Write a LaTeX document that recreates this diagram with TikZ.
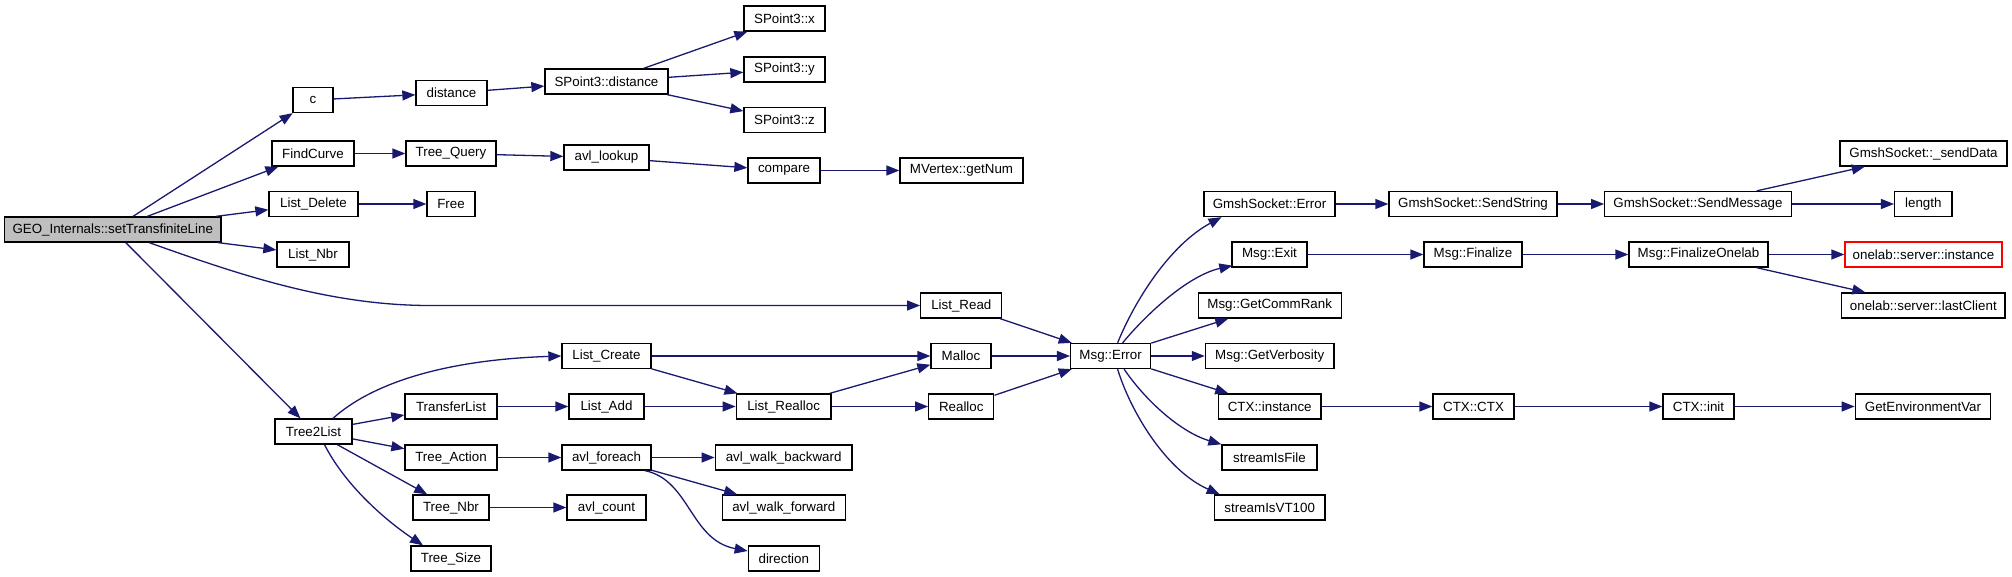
\documentclass[tikz,border=0pt]{standalone}
\usepackage{fontspec}
\setmainfont{Liberation Sans}
\usetikzlibrary{arrows.meta,calc}
\definecolor{edgecol}{HTML}{191970}
\definecolor{rootfill}{HTML}{BFBFBF}
\tikzset{
  box/.style={draw=black, line width=0.65pt, fill=white, rectangle, minimum height=12.5pt, inner sep=0pt, font=\fontsize{6.67}{8}\selectfont},
  bw/.style={minimum width=#1*0.5pt},
  edge/.style={draw=edgecol, line width=0.65pt, -{Triangle[length=6.5pt,width=5pt]}}
}
\begin{document}
\begin{tikzpicture}[x=0.5pt,y=-0.5pt]
\fill[white] (0,0) rectangle (2012,577);
\useasboundingbox (0,0) rectangle (2012,577);
% nodes
\node[box, bw=216.5, fill=rootfill] (geo) at (112.75,229.5) {GEO\_Internals::setTransfiniteLine};
\node[box, bw=40] (c) at (313,100) {c};
\node[box, bw=71] (distance) at (451.5,93) {distance};
\node[box, bw=123] (spdist) at (606.5,81.5) {SPoint3::distance};
\node[box, bw=81] (spx) at (784.5,18.5) {SPoint3::x};
\node[box, bw=81] (spy) at (784.5,69.5) {SPoint3::y};
\node[box, bw=81] (spz) at (784.5,120) {SPoint3::z};
\node[box, bw=82] (findcurve) at (313,153.5) {FindCurve};
\node[box, bw=90] (treequery) at (451,153.5) {Tree\_Query};
\node[box, bw=85] (avllookup) at (606.5,157.5) {avl\_lookup};
\node[box, bw=72] (compare) at (784,170.5) {compare};
\node[box, bw=123] (mvertex) at (961.5,170.5) {MVertex::getNum};
\node[box, bw=89] (listdelete) at (313.5,204) {List\_Delete};
\node[box, bw=48] (free) at (451,204) {Free};
\node[box, bw=72] (listnbr) at (313,254.5) {List\_Nbr};
\node[box, bw=77] (tree2list) at (313.5,431.5) {Tree2List};
\node[box, bw=89] (listcreate) at (606.5,356) {List\_Create};
\node[box, bw=92] (transferlist) at (451,406.5) {TransferList};
\node[box, bw=75] (listadd) at (606.5,406.5) {List\_Add};
\node[box, bw=92] (treeaction) at (451,457.5) {Tree\_Action};
\node[box, bw=89] (avlforeach) at (606.5,457.5) {avl\_foreach};
\node[box, bw=76] (treenbr) at (451,507.5) {Tree\_Nbr};
\node[box, bw=79] (avlcount) at (606.5,507.5) {avl\_count};
\node[box, bw=80] (treesize) at (451,558.5) {Tree\_Size};
\node[box, bw=81] (listread) at (961.3,305.5) {List\_Read};
\node[box, bw=60] (malloc) at (961,356) {Malloc};
\node[box, bw=80] (msgerror) at (1110.6,356) {Msg::Error};
\node[box, bw=94.6] (listrealloc) at (783.6,406.5) {List\_Realloc};
\node[box, bw=65] (realloc) at (961.3,406.5) {Realloc};
\node[box, bw=136.6] (avlwalkb) at (783.6,457.5) {avl\_walk\_backward};
\node[box, bw=122.8] (avlwalkf) at (783.8,507.5) {avl\_walk\_forward};
\node[box, bw=71] (direction) at (783.8,558.5) {direction};
\node[box, bw=131] (gserror) at (1269.5,204) {GmshSocket::Error};
\node[box, bw=75] (msgexit) at (1269.5,254.5) {Msg::Exit};
\node[box, bw=143] (getcommrank) at (1269.7,305.5) {Msg::GetCommRank};
\node[box, bw=128.6] (getverbosity) at (1269.7,356) {Msg::GetVerbosity};
\node[box, bw=102.7] (ctxinstance) at (1269.7,406.5) {CTX::instance};
\node[box, bw=95] (streamisfile) at (1269.5,457.5) {streamIsFile};
\node[box, bw=110.7] (streamvt) at (1269.7,507.5) {streamIsVT100};
\node[box, bw=168] (sendstring) at (1473,204) {GmshSocket::SendString};
\node[box, bw=186.5] (sendmessage) at (1698,204) {GmshSocket::SendMessage};
\node[box, bw=167] (senddata) at (1923.5,153.5) {GmshSocket::\_sendData};
\node[box, bw=57.4] (length) at (1923.3,204) {length};
\node[box, bw=98] (msgfinalize) at (1473,254.5) {Msg::Finalize};
\node[box, bw=139] (finalizeonelab) at (1698.5,254.5) {Msg::FinalizeOnelab};
\node[box, bw=157, draw=red] (olinstance) at (1923.5,254.5) {onelab::server::instance};
\node[box, bw=163.5] (ollast) at (1923.3,305.5) {onelab::server::lastClient};
\node[box, bw=81] (ctxctx) at (1473.5,406.5) {CTX::CTX};
\node[box, bw=71] (ctxinit) at (1698.5,406.5) {CTX::init};
\node[box, bw=135.5] (getenv) at (1923,406.5) {GetEnvironmentVar};
% edges
\draw[edge] (geo) -- (c);
\draw[edge] (geo) -- (findcurve);
\draw[edge] (geo) -- (listdelete);
\draw[edge] (geo) -- (listnbr);
\draw[edge] ($(geo.south)+(36.5,0)$) .. controls (240,275) and (330,305.5) .. (430,305.5) -- (listread.west);
\draw[edge] (geo) -- (tree2list);
\draw[edge] (c) -- (distance);
\draw[edge] (distance) -- (spdist);
\draw[edge] (spdist) -- (spx);
\draw[edge] (spdist) -- (spy);
\draw[edge] (spdist) -- (spz);
\draw[edge] (findcurve) -- (treequery);
\draw[edge] (treequery) -- (avllookup);
\draw[edge] (avllookup) -- (compare);
\draw[edge] (compare) -- (mvertex);
\draw[edge] (listdelete) -- (free);
\draw[edge] (listread) -- (msgerror);
\draw[edge] ($(tree2list.north)+(19.5,0)$) .. controls (370,385) and (440,360) .. (listcreate.west);
\draw[edge] (tree2list) -- (transferlist);
\draw[edge] (tree2list) -- (treeaction);
\draw[edge] (tree2list) -- (treenbr);
\draw[edge] ($(tree2list.south)+(11,0)$) .. controls (345,485) and (385,520) .. ($(treesize.north)+(-28,0)$);
\draw[edge] (listcreate) -- (malloc);
\draw[edge] (listcreate) -- (listrealloc);
\draw[edge] (transferlist) -- (listadd);
\draw[edge] (listadd) -- (listrealloc);
\draw[edge] (treeaction) -- (avlforeach);
\draw[edge] (avlforeach) -- (avlwalkb);
\draw[edge] (avlforeach) -- (avlwalkf);
\draw[edge] ($(avlforeach.south)+(38.5,0)$) .. controls (690,480) and (690,540) .. ($(direction.west)+(0,-7.5)$);
\draw[edge] (treenbr) -- (avlcount);
\draw[edge] (listrealloc) -- (malloc);
\draw[edge] (listrealloc) -- (realloc);
\draw[edge] (malloc) -- (msgerror);
\draw[edge] (realloc) -- (msgerror);
\draw[edge] ($(msgerror.north)+(7,0)$) .. controls (1135,300) and (1170,245) .. ($(gserror.south)+(-48,0)$);
\draw[edge] ($(msgerror.north)+(12,0)$) .. controls (1150,310) and (1190,275) .. ($(msgexit.south west)+(1,-2)$);
\draw[edge] (msgerror) -- (getcommrank);
\draw[edge] (msgerror) -- (getverbosity);
\draw[edge] (msgerror) -- (ctxinstance);
\draw[edge] ($(msgerror.south)+(13.5,0)$) .. controls (1145,400) and (1180,432) .. (streamisfile.north west);
\draw[edge] ($(msgerror.south)+(7,0)$) .. controls (1130,410) and (1165,470) .. ($(streamvt.north west)+(6,0)$);
\draw[edge] (gserror) -- (sendstring);
\draw[edge] (sendstring) -- (sendmessage);
\draw[edge] (sendmessage) -- (senddata);
\draw[edge] (sendmessage) -- (length);
\draw[edge] (msgexit) -- (msgfinalize);
\draw[edge] (msgfinalize) -- (finalizeonelab);
\draw[edge] (finalizeonelab) -- (olinstance);
\draw[edge] (finalizeonelab) -- (ollast);
\draw[edge] (ctxinstance) -- (ctxctx);
\draw[edge] (ctxctx) -- (ctxinit);
\draw[edge] (ctxinit) -- (getenv);
\end{tikzpicture}
\end{document}
